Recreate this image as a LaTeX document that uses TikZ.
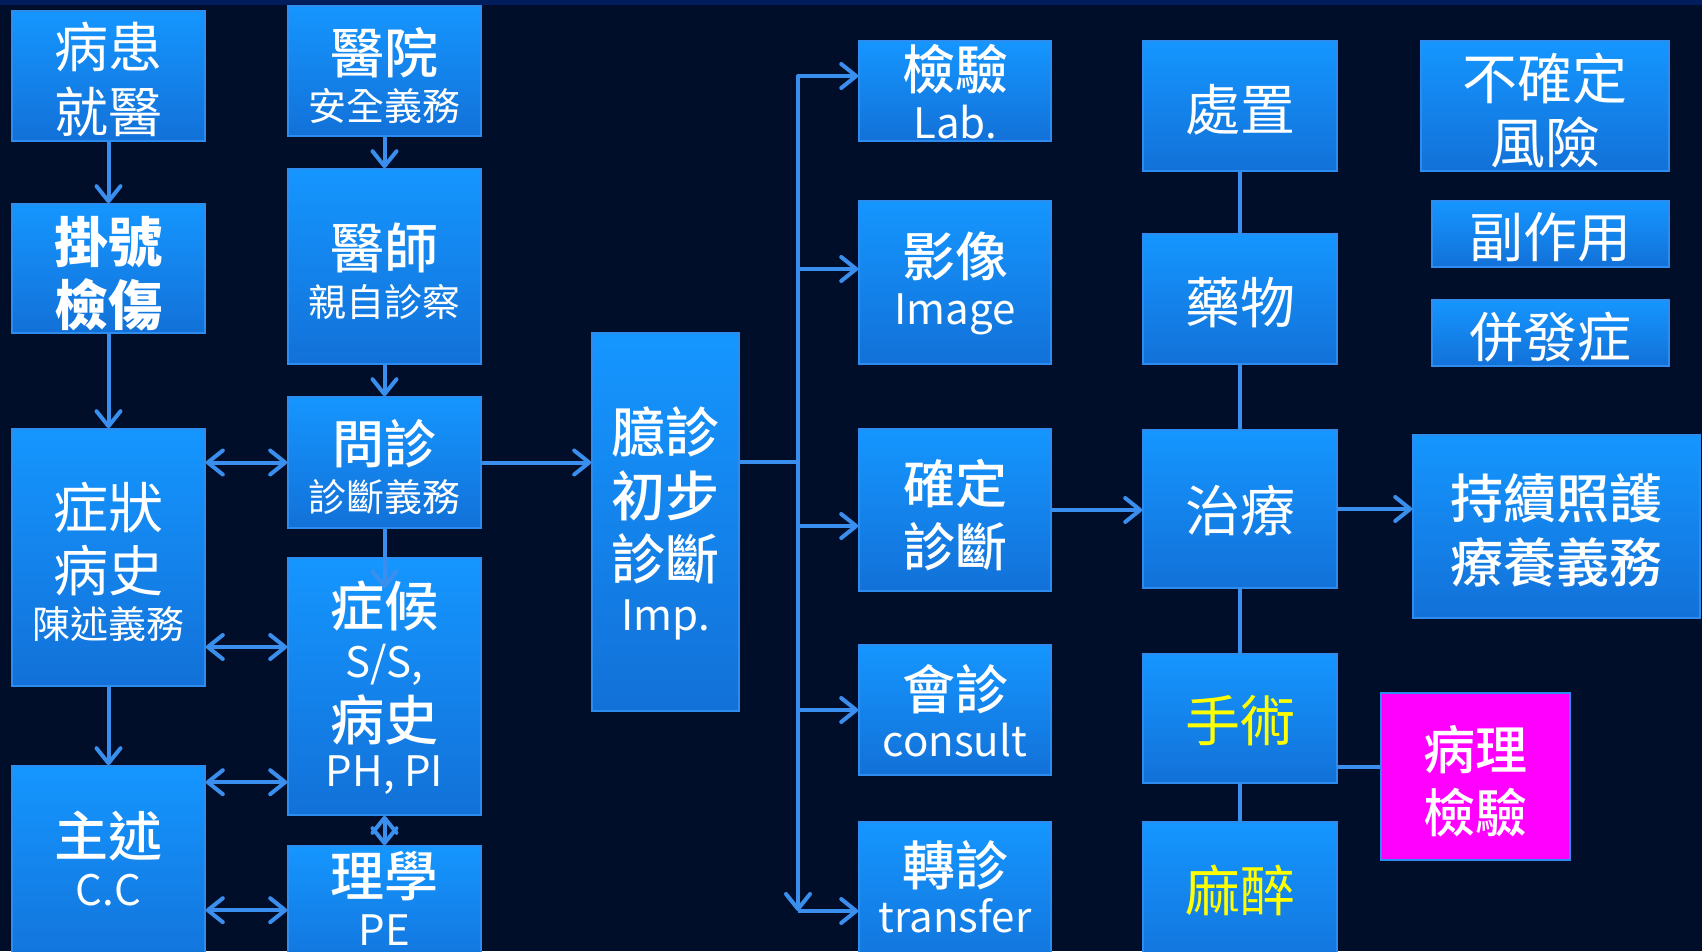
\documentclass[tikz,border=0pt]{standalone}
\usepackage{fontspec}
\setmainfont{Noto Sans CJK TC}
\IfFontExistsTF{Noto Sans CJK TC Medium}{\newfontfamily\medf{Noto Sans CJK TC Medium}}{\newcommand{\medf}{\bfseries}}
\usetikzlibrary{arrows.meta}
\definecolor{bgc}{HTML}{000E29}
\definecolor{bandc}{HTML}{021D5C}
\definecolor{boxtop}{HTML}{1596FF}
\definecolor{boxbot}{HTML}{1271D8}
\definecolor{boxline}{HTML}{2E8CEE}
\definecolor{arrc}{HTML}{3A8EEE}
\definecolor{magc}{HTML}{FF00FF}
\definecolor{yel}{HTML}{FFFF00}
\newcommand{\smcjk}{\normalfont\fontsize{38}{38}\selectfont}
\newcommand{\latn}{\normalfont\fontsize{42}{42}\selectfont}
\begin{document}
\begin{tikzpicture}[x=1pt,y=-1pt,
  box/.style={draw=boxline, line width=1.6pt, top color=boxtop, bottom color=boxbot, inner sep=0pt},
  magbox/.style={draw=boxline, line width=2pt, fill=magc, inner sep=0pt},
  tx/.style={text=white, align=center, inner sep=0pt},
  tip/.tip={Straight Barb[length=15pt,width=24pt,round]},
  arr/.style={draw=arrc, line width=4pt, -tip},
  dbl/.style={draw=arrc, line width=4pt, tip-tip},
  ln/.style={draw=arrc, line width=4pt},
]
\useasboundingbox (0,0) rectangle (1702,951);
\fill[bgc] (0,0) rectangle (1702,951);
\fill[bandc] (0,0) rectangle (1702,5);

% column 1
\node[box,minimum width=193pt,minimum height=130pt] (bh) at (108.5,76) {};
\node[box,minimum width=193pt,minimum height=129pt] (rg) at (108.5,268.5) {};
\node[box,minimum width=193pt,minimum height=257pt] (zz) at (108.5,557.5) {};
\node[box,minimum width=193pt,minimum height=214pt] (zs) at (108.5,873) {};
% column 2
\node[box,minimum width=193pt,minimum height=130pt] (yy) at (384.5,71) {};
\node[box,minimum width=193pt,minimum height=195pt] (ys) at (384.5,266.5) {};
\node[box,minimum width=193pt,minimum height=131pt] (wz) at (384.5,462.5) {};
\node[box,minimum width=193pt,minimum height=257pt] (zh) at (384.5,686.5) {};
\node[box,minimum width=193pt,minimum height=134pt] (lx) at (384.5,913) {};
% column 3
\node[box,minimum width=147pt,minimum height=378pt] (yz) at (665.5,522) {};
% column 4
\node[box,minimum width=192pt,minimum height=100pt] (jy) at (955,91) {};
\node[box,minimum width=192pt,minimum height=163pt] (yx) at (955,282.5) {};
\node[box,minimum width=192pt,minimum height=162pt] (qd) at (955,510) {};
\node[box,minimum width=192pt,minimum height=130pt] (hz) at (955,710) {};
\node[box,minimum width=192pt,minimum height=158pt] (zhz) at (955,901) {};
% column 5
\node[box,minimum width=194pt,minimum height=130pt] (cz) at (1240,106) {};
\node[box,minimum width=194pt,minimum height=130pt] (yw) at (1240,299) {};
\node[box,minimum width=194pt,minimum height=158pt] (zl) at (1240,509) {};
\node[box,minimum width=194pt,minimum height=129pt] (ss) at (1240,718.5) {};
\node[box,minimum width=194pt,minimum height=158pt] (mz) at (1240,901) {};
% column 6
\node[box,minimum width=248pt,minimum height=130pt] (bq) at (1545,106) {};
\node[box,minimum width=237pt,minimum height=66pt] (fz) at (1550.5,234) {};
\node[box,minimum width=237pt,minimum height=66pt] (bf) at (1550.5,333) {};
\node[box,minimum width=287pt,minimum height=183pt] (cx) at (1556.5,526.5) {};
\node[magbox,minimum width=189pt,minimum height=167pt] (bl) at (1475.5,776.5) {};

% connectors, left side
\draw[arr] (bh.south) -- (rg.north);
\draw[arr] (rg.south) -- (zz.north);
\draw[arr] (zz.south) -- (zs.north);
\draw[arr] (yy.south) -- (ys.north);
\draw[arr] (ys.south) -- (wz.north);
\draw[dbl] (wz.west -| zz.east) -- (wz.west);
\draw[dbl] ([yshift=-89.5pt]zz.east) -- ([yshift=-89.5pt]zz.east -| zh.west);
\draw[dbl] ([yshift=-17pt]zs.north east) -- ([yshift=-17pt]zs.north east -| zh.west);
\draw[dbl] ([yshift=-65pt]lx.north west -| zs.east) -- ([yshift=-65pt]lx.north west);
\draw[dbl] (zh.south) -- (lx.north);
\draw[arr, shorten >=-31pt] (wz.south) -- (zh.north);
\draw[arr] (wz.east) -- (wz.east -| yz.west);

% trunk
\coordinate (t1) at (798,76);
\coordinate (t2) at (798,269);
\coordinate (t0) at (798,462);
\coordinate (t3) at (798,526);
\coordinate (t4) at (798,710);
\coordinate (t5) at (798,911);
\draw[ln] (t0 -| yz.east) -- (t0);
\draw[dbl, line join=round] (t5) -- (t1) -- (t1 -| jy.west);
\draw[arr] (t2) -- (t2 -| yx.west);
\draw[arr] (t3) -- (t3 -| qd.west);
\draw[arr] (t4) -- (t4 -| hz.west);
\draw[arr] (t5) -- (t5 -| zhz.west);

% right side
\draw[arr] (qd.east) -- (qd.east -| zl.west);
\draw[arr] (zl.east) -- (zl.east -| cx.west);
\draw[ln] (cz.south) -- (yw.north);
\draw[ln] (yw.south) -- (zl.north);
\draw[ln] (zl.south) -- (ss.north);
\draw[ln] (ss.south) -- (mz.north);
\draw[ln] ([yshift=-48.5pt]ss.east) -- ([yshift=-48.5pt]ss.east -| bl.west);

% texts
\node[tx, font=\fontsize{54}{65}\selectfont] (bh-t) at (108.5,79.5) {病患\\就醫};
\node[tx, font=\bfseries\fontsize{54}{63}\selectfont] (rg-t) at (108.5,273.5) {掛號\\檢傷};
\node[tx, font=\fontsize{55}{63.5}\selectfont] (zz-t) at (108.5,562) {症狀\\病史\\[-16.5pt]{\smcjk 陳述義務}};
\node[tx, font=\medf\fontsize{54}{48.5}\selectfont] (zs-t) at (108.5,858.5) {主述\\{\latn C.C}};
\node[tx, font=\medf\fontsize{54}{47}\selectfont] (yy-t) at (384.5,76) {醫院\\{\smcjk 安全義務}};
\node[tx, font=\medf\fontsize{54}{48}\selectfont] (ys-t) at (384.5,271.5) {醫師\\{\smcjk 親自診察}};
\node[tx, font=\medf\fontsize{52}{47.5}\selectfont] (wz-t) at (384.5,467) {問診\\{\smcjk 診斷義務}};
\node[tx, font=\medf\fontsize{54}{50.5}\selectfont] (zh-t) at (384.5,688) {症候\\{\latn S/S,}\\[9pt]病史\\[-4.5pt]{\latn PH, PI}};
\node[tx, font=\medf\fontsize{54}{48.5}\selectfont] (lx-t) at (384.5,898.5) {理學\\{\latn PE}};
\node[tx, font=\medf\fontsize{54}{62.4}\selectfont] (yz-t) at (665.5,523.5) {臆診\\[2pt]初步\\診斷\\[-11pt]{\latn Imp.}};
\node[tx, font=\medf\fontsize{53}{48.5}\selectfont] (jy-t) at (955,91.5) {檢驗\\{\latn Lab.}};
\node[tx, font=\medf\fontsize{53}{48.5}\selectfont] (yx-t) at (955,283.5) {影像\\{\latn Image}};
\node[tx, font=\medf\fontsize{52}{63}\selectfont] (qd-t) at (955,515.5) {確定\\診斷};
\node[tx, font=\medf\fontsize{53}{47}\selectfont] (hz-t) at (955,711) {會診\\{\latn consult}};
\node[tx, font=\medf\fontsize{53}{47.5}\selectfont] (zhz-t) at (955,887) {轉診\\{\latn transfer}};
\node[tx, font=\fontsize{55}{55}\selectfont] (cz-t) at (1240,110) {處置};
\node[tx, font=\fontsize{55}{55}\selectfont] (yw-t) at (1240,303) {藥物};
\node[tx, font=\fontsize{55}{55}\selectfont] (zl-t) at (1240,511) {治療};
\node[tx, text=yel, font=\fontsize{55}{55}\selectfont] (ss-t) at (1240,721) {手術};
\node[tx, text=yel, font=\fontsize{55}{55}\selectfont] (mz-t) at (1240,890.7) {麻醉};
\node[tx, font=\fontsize{55}{64}\selectfont] (bq-t) at (1545,110) {不確定\\風險};
\node[tx, font=\fontsize{54}{54}\selectfont] (fz-t) at (1550.5,237) {副作用};
\node[tx, font=\fontsize{54}{54}\selectfont] (bf-t) at (1550.5,337) {併發症};
\node[tx, font=\medf\fontsize{53}{64}\selectfont] (cx-t) at (1556.5,530) {持續照護\\療養義務};
\node[tx, font=\medf\fontsize{52}{63}\selectfont] (bl-t) at (1475.5,781.5) {病理\\檢驗};
\end{tikzpicture}
\end{document}
